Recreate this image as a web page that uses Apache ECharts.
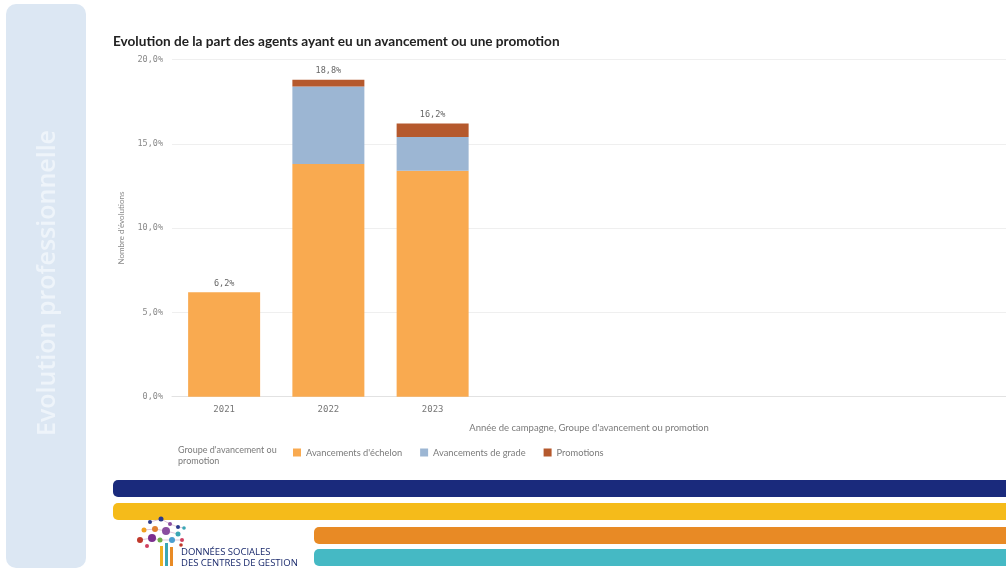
<!DOCTYPE html>
<html><head><meta charset="utf-8">
<script src="https://cdn.jsdelivr.net/npm/echarts@6/dist/echarts.min.js"></script>
<style>html,body{margin:0;padding:0;background:#fff;}#c{width:1006px;height:572px;}</style>
</head><body><div id="c"></div>
<script>
const categories = ['2021', '2022', '2023'];
const seriesNames = ["Avancements d'échelon", 'Avancements de grade', 'Promotions'];
const echelon = [6.2, 13.8, 13.4];
const grade = [0, 4.6, 2.0];
const promotions = [0, 0.4, 0.8];
const totals = [6.2, 18.8, 16.2];
const yTicks = [0, 5, 10, 15, 20];

const colors = ['#f9aa50', '#9cb6d3', '#b5592d'];
const fmt = v => v.toFixed(1).replace('.', ',') + '%';
const chart = echarts.init(document.getElementById('c'));

const logoDots = [
  [150,522,2,'#2b3a8c'],[161,519,2.5,'#2b3a8c'],[170,524,2,'#8a4ea0'],[178,527,2,'#2b3a8c'],
  [144,530,2.5,'#f0a020'],[155,529,3,'#e08030'],[166,531,4,'#8a4ea0'],[178,534,2.5,'#3aa6b4'],
  [184,528,1.8,'#3aa6b4'],[140,540,3,'#c0392b'],[152,538,4,'#7b2f8e'],[172,540,3,'#4a9ed0'],
  [182,540,2,'#d04060'],[147,546,2,'#d04060'],[181,545,1.8,'#c0392b'],[160,540,2.5,'#6fb04a']
];
const graphics = [
  {type:'rect', shape:{x:6,y:4,width:80,height:564,r:10}, style:{fill:'#dce7f3'}},
  {type:'text', x:48, y:283, rotation:Math.PI/2, style:{text:'Evolution professionnelle', font:'600 25px "Open Sans"', fill:'#eef4fa', align:'center', verticalAlign:'middle'}},
  {type:'text', left:113, top:35, style:{text:'Evolution de la part des agents ayant eu un avancement ou une promotion', font:'bold 13.6px Lato', fill:'#222'}},
  {type:'text', left:178, top:445, style:{text:"Groupe d'avancement ou\npromotion", font:'9px Lato', fill:'#7a7a7a', lineHeight:11}},
  {type:'rect', shape:{x:113,y:480,width:900,height:17,r:[5,0,0,5]}, style:{fill:'#1a2a7c'}},
  {type:'rect', shape:{x:113,y:503,width:900,height:17,r:[5,0,0,5]}, style:{fill:'#f5bb1a'}},
  {type:'rect', shape:{x:314,y:527,width:700,height:17,r:[5,0,0,5]}, style:{fill:'#e88a25'}},
  {type:'rect', shape:{x:314,y:549,width:700,height:17,r:[5,0,0,5]}, style:{fill:'#45b9c4'}},
  {type:'text', left:181, top:547, style:{text:'DONNÉES SOCIALES\nDES CENTRES DE GESTION', font:'9.5px "Open Sans"', fill:'#1a2a6c', lineHeight:11}},
  {type:'rect', shape:{x:160,y:546,width:3,height:20}, style:{fill:'#f0b020'}},
  {type:'rect', shape:{x:165,y:543,width:3,height:23}, style:{fill:'#3aa6b4'}},
  {type:'rect', shape:{x:170,y:547,width:3,height:19}, style:{fill:'#e88a25'}},
  {type:'polyline', shape:{points:[[150,522],[161,519],[170,524],[178,527],[184,528]]}, style:{stroke:'#c9a0c0', lineWidth:0.6, fill:null}},
  {type:'polyline', shape:{points:[[144,530],[155,529],[166,531],[178,534]]}, style:{stroke:'#c9a0c0', lineWidth:0.6, fill:null}},
  {type:'polyline', shape:{points:[[140,540],[152,538],[160,540],[172,540],[182,540]]}, style:{stroke:'#c9a0c0', lineWidth:0.6, fill:null}}
];
logoDots.forEach(d => graphics.push({type:'circle', shape:{cx:d[0], cy:d[1], r:d[2]}, style:{fill:d[3]}}));

const barCommon = {type:'bar', stack:'s', barWidth:72};
chart.setOption({
  animation:false,
  color: colors,
  textStyle:{fontFamily:'Lato'},
  grid:{left:172, right:0, top:59.5, bottom:175.3},
  legend:{left:288, top:443, itemWidth:8, itemHeight:8, itemGap:18, icon:'rect',
    data: seriesNames, textStyle:{fontSize:9.3, color:'#7a7a7a', fontFamily:'Lato'}},
  xAxis:{type:'category', data:categories, max:7,
    axisLine:{lineStyle:{color:'#e2e2e2'}}, axisTick:{show:false},
    axisLabel:{fontFamily:'DejaVu Sans Mono', fontSize:9, color:'#777', margin:8},
    name:"Année de campagne, Groupe d'avancement ou promotion", nameLocation:'middle', nameGap:26,
    nameTextStyle:{fontSize:9.5, color:'#7a7a7a', fontFamily:'Lato'}},
  yAxis:{type:'value', min:0, max:20, interval:5,
    axisLine:{show:false}, axisTick:{show:false},
    splitLine:{lineStyle:{color:'#efefef'}},
    axisLabel:{fontFamily:'DejaVu Sans Mono', fontSize:8.5, color:'#888', margin:9, formatter:v => yTicks.includes(v) ? fmt(v) : ''},
    name:"Nombre d'évolutions", nameLocation:'middle', nameGap:47,
    nameTextStyle:{fontSize:8, color:'#8a8a8a', fontFamily:'Lato'}},
  series:[
    Object.assign({name:seriesNames[0], data:echelon}, barCommon),
    Object.assign({name:seriesNames[1], data:grade}, barCommon),
    Object.assign({name:seriesNames[2], data:promotions}, barCommon),
    Object.assign({name:'total', data:totals.map(() => 0), itemStyle:{color:'transparent'},
      label:{show:true, position:'top', distance:4, fontFamily:'DejaVu Sans Mono', fontSize:8.5, color:'#666',
        formatter:p => fmt(totals[p.dataIndex])}}, barCommon)
  ],
  graphic: graphics
});
</script></body></html>
